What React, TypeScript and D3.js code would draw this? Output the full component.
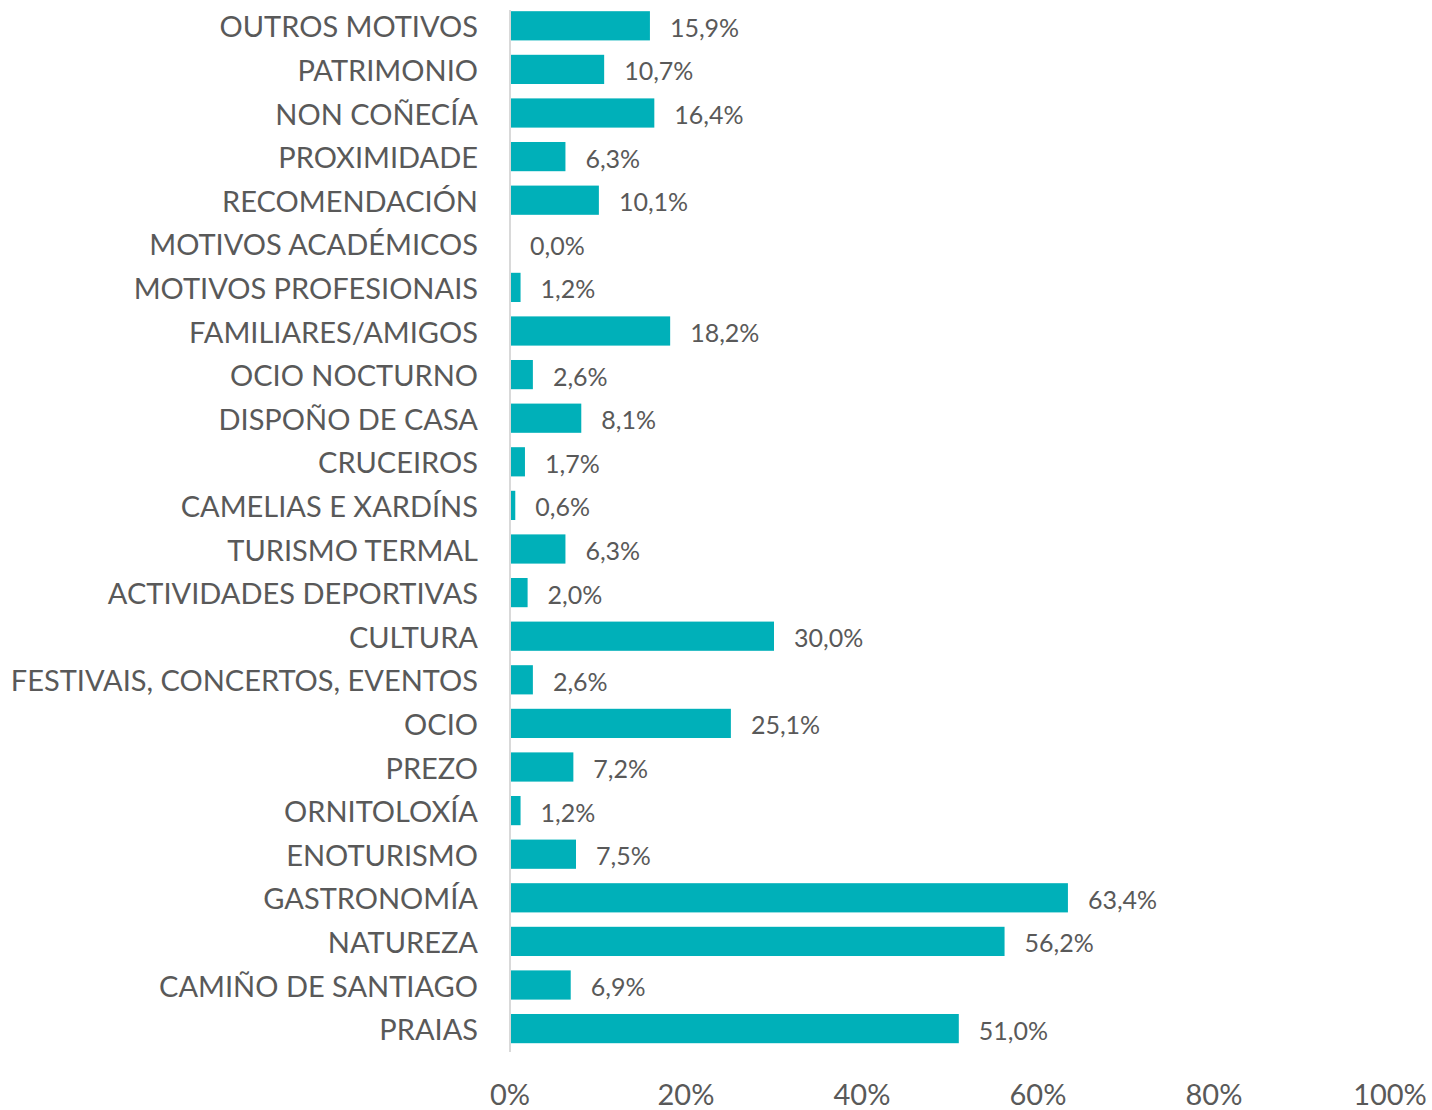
import React from "react";
import * as d3 from "d3";

const categories = [
  "OUTROS MOTIVOS",
  "PATRIMONIO",
  "NON COÑECÍA",
  "PROXIMIDADE",
  "RECOMENDACIÓN",
  "MOTIVOS ACADÉMICOS",
  "MOTIVOS PROFESIONAIS",
  "FAMILIARES/AMIGOS",
  "OCIO NOCTURNO",
  "DISPOÑO DE CASA",
  "CRUCEIROS",
  "CAMELIAS E XARDÍNS",
  "TURISMO TERMAL",
  "ACTIVIDADES DEPORTIVAS",
  "CULTURA",
  "FESTIVAIS, CONCERTOS, EVENTOS",
  "OCIO",
  "PREZO",
  "ORNITOLOXÍA",
  "ENOTURISMO",
  "GASTRONOMÍA",
  "NATUREZA",
  "CAMIÑO DE SANTIAGO",
  "PRAIAS",
];

const values = [
  15.9, 10.7, 16.4, 6.3, 10.1, 0.0, 1.2, 18.2, 2.6, 8.1, 1.7, 0.6, 6.3, 2.0,
  30.0, 2.6, 25.1, 7.2, 1.2, 7.5, 63.4, 56.2, 6.9, 51.0,
];

const ticks = [0, 20, 40, 60, 80, 100];

const W = 1432;
const H = 1110;
const FONT = "Lato, 'Open Sans', sans-serif";
const TEXT = "#595959";
const BAR = "#00b0b9";

export default function App() {
  const x = d3.scaleLinear().domain([0, 100]).range([510, 1390]);
  const y = d3
    .scaleBand<string>()
    .domain(categories)
    .range([4, 1050.4])
    .paddingInner(0.33)
    .paddingOuter(0.165);

  const fmt = (v: number) => v.toFixed(1).replace(".", ",") + "%";

  return (
    <svg
      width={W}
      height={H}
      style={{ position: "absolute", left: 0, top: 0, background: "#fff" }}
      fontFamily={FONT}
    >
      <rect x={0} y={0} width={W} height={H} fill="#fff" />
      {categories.map((c, i) => {
        const yy = y(c)!;
        const bw = y.bandwidth();
        return (
          <g key={c}>
            <rect
              x={x(0)}
              y={yy}
              width={x(values[i]) - x(0)}
              height={bw}
              fill={BAR}
            />
            <text
              x={478}
              y={yy + bw / 2}
              textAnchor="end"
              dominantBaseline="central"
              fontSize={29}
              fill={TEXT}
            >
              {c}
            </text>
            <text
              x={x(values[i]) + 20}
              y={yy + bw / 2 + 1}
              dominantBaseline="central"
              fontSize={25}
              fill={TEXT}
            >
              {fmt(values[i])}
            </text>
          </g>
        );
      })}
      <line x1={x(0)} x2={x(0)} y1={10} y2={1052} stroke="#d9d9d9" strokeWidth={2} />
      {ticks.map((t) => (
        <text
          key={t}
          x={x(t)}
          y={1105}
          textAnchor="middle"
          fontSize={29}
          fill={TEXT}
        >
          {t + "%"}
        </text>
      ))}
    </svg>
  );
}
